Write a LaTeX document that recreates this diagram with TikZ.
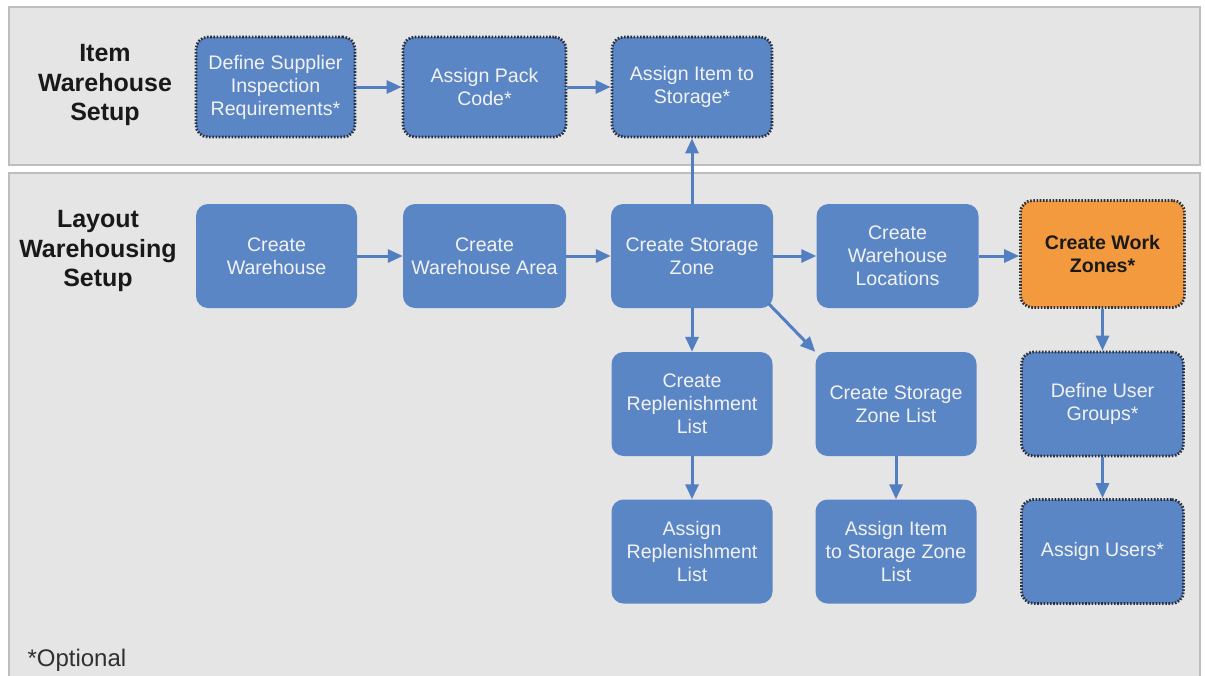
\documentclass[tikz,border=0pt]{standalone}
\usepackage{fontspec}
\setmainfont{Liberation Sans}
\usetikzlibrary{arrows.meta}

\definecolor{boxblue}{RGB}{91,134,198}
\definecolor{linkblue}{RGB}{82,126,194}
\definecolor{dotline}{RGB}{40,48,62}
\definecolor{workorange}{RGB}{244,154,62}
\definecolor{panelfill}{RGB}{229,229,229}
\definecolor{paneledge}{RGB}{190,190,190}
\definecolor{inkdark}{RGB}{25,25,25}

\tikzset{
  panel/.style={fill=panelfill, draw=paneledge, line width=2pt},
  proc/.style={rectangle, rounded corners=12pt, fill=boxblue, draw=none,
    text=white!95!black, align=center, inner sep=2pt,
    font=\fontsize{19.6}{23}\selectfont},
  optional/.style={proc, draw=dotline, line width=2.8pt,
    dash pattern=on 1.6pt off 1.6pt},
  focus/.style={optional, fill=workorange, text=inkdark,
    font=\fontsize{19.6}{23}\selectfont\bfseries},
  lane/.style={align=center, text=inkdark,
    font=\fontsize{25}{29.5}\selectfont\bfseries},
  flow/.style={draw=linkblue, line width=3pt,
    -{Triangle[length=15pt,width=13pt]}},
}

\begin{document}
\begin{tikzpicture}[x=1pt,y=-1pt]
  \useasboundingbox (0,0) rectangle (1205,675);
  \fill[white] (0,0) rectangle (1205,675);

  % swim lanes
  \begin{scope}
    \clip (0,0) rectangle (1205,675);
    \draw[panel] (9,7) rectangle (1200,165);
    \draw[panel] (9,173) rectangle (1200,690);
  \end{scope}

  \node[lane] (laneitem) at (105,85) {Item\\Warehouse\\Setup};
  \node[lane] (lanelayout) at (98,251) {Layout\\Warehousing\\Setup};

  % item warehouse setup
  \node[optional, minimum width=159pt, minimum height=100pt] (dsir) at (275.5,87)
    {Define Supplier\\Inspection\\Requirements*};
  \node[optional, minimum width=163pt, minimum height=100pt] (apc) at (484.5,87)
    {Assign Pack\\Code*};
  \node[optional, minimum width=160pt, minimum height=100pt] (ais) at (692,87)
    {Assign Item to\\Storage*};

  % layout warehousing setup
  \node[proc, minimum width=161pt, minimum height=104pt] (cw) at (276.5,256)
    {Create\\Warehouse};
  \node[proc, minimum width=163pt, minimum height=104pt] (cwa) at (484.5,256)
    {Create\\Warehouse Area};
  \node[proc, minimum width=162pt, minimum height=104pt] (csz) at (692,256)
    {Create Storage\\Zone};
  \node[proc, minimum width=162pt, minimum height=104pt] (cwl) at (897.5,256)
    {Create\\Warehouse\\Locations};
  \node[focus, minimum width=164pt, minimum height=107pt] (cwz) at (1102.5,254)
    {Create Work\\Zones*};

  \node[proc, minimum width=161pt, minimum height=104pt] (crl) at (692,404)
    {Create\\Replenishment\\List};
  \node[proc, minimum width=161pt, minimum height=104pt] (cszl) at (896,404)
    {Create Storage\\Zone List};
  \node[optional, minimum width=162pt, minimum height=104pt] (dug) at (1102.5,404)
    {Define User\\Groups*};

  \node[proc, minimum width=161pt, minimum height=104pt] (arl) at (692,551.5)
    {Assign\\Replenishment\\List};
  \node[proc, minimum width=161pt, minimum height=104pt] (aiszl) at (896,551.5)
    {Assign Item\\to Storage Zone\\List};
  \node[optional, minimum width=162pt, minimum height=104pt] (au) at (1102.5,551.5)
    {Assign Users*};

  \node[anchor=base west, text=inkdark!90!white,
    font=\fontsize{24}{29}\selectfont] (note) at (24,666) {*Optional};

  % connectors
  \draw[flow] (dsir) -- (apc);
  \draw[flow] (apc) -- (ais);
  \draw[flow] (csz) -- (ais);
  \draw[flow] (cw) -- (cwa);
  \draw[flow] (cwa) -- (csz);
  \draw[flow] (csz) -- (cwl);
  \draw[flow] (cwl.east) -- (cwl.east -| cwz.west);
  \draw[flow] (csz) -- (crl);
  \draw[flow] ([shift={(-5,-5)}]csz.south east) -- (cszl.north west);
  \draw[flow] (crl) -- (arl);
  \draw[flow] (cszl) -- (aiszl);
  \draw[flow] (cwz.south -| dug.north) -- (dug);
  \draw[flow] (dug) -- (au);
\end{tikzpicture}
\end{document}
